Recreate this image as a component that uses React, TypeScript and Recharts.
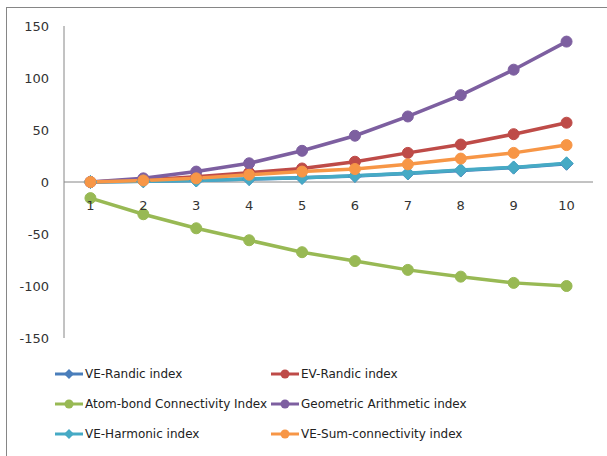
import React from 'react'
import { LineChart, Line, XAxis, YAxis, ReferenceLine } from 'recharts'

const categories = [1, 2, 3, 4, 5, 6, 7, 8, 9, 10]
const veRandic = [0, 0.7, 1.5, 2.8, 4, 5.8, 8.2, 11, 13.8, 17.5]
const evRandic = [0, 2, 5, 9, 13, 19.5, 28, 36, 46, 57]
const abcIndex = [-15.5, -31, -44.5, -56, -67.5, -76, -84.5, -91, -97, -100]
const gaIndex = [0, 3.5, 10, 18, 30, 44.5, 63, 83.5, 108, 135]
const veHarmonic = [0, 0.7, 1.5, 3, 4, 6, 8.5, 11.5, 14, 18]
const veSum = [0, 1.5, 3.5, 7, 10, 12.5, 17, 22.5, 28, 35.5]
const yTicks = [-150, -100, -50, 0, 50, 100, 150]

const series = [
  { key: 'veRandic', name: 'VE-Randic index', color: '#4A7EBB', values: veRandic, shape: 'diamond' },
  { key: 'evRandic', name: 'EV-Randic index', color: '#BE4B48', values: evRandic, shape: 'circle' },
  { key: 'abc', name: 'Atom-bond Connectivity Index', color: '#98B954', values: abcIndex, shape: 'circle' },
  { key: 'ga', name: 'Geometric Arithmetic index', color: '#7D5FA0', values: gaIndex, shape: 'circle' },
  { key: 'veHarmonic', name: 'VE-Harmonic index', color: '#46AAC5', values: veHarmonic, shape: 'diamond' },
  { key: 'veSum', name: 'VE-Sum-connectivity index', color: '#F79646', values: veSum, shape: 'circle' },
]

const data = categories.map((c, i) => {
  const row: any = { x: c }
  series.forEach((s) => (row[s.key] = s.values[i]))
  return row
})

const W = 607
const H = 456
const TOP = 26
const PLOT_BOTTOM = 338
const ZERO_Y = TOP + (PLOT_BOTTOM - TOP) * 0.5
const FONT = '"DejaVu Sans", Verdana, sans-serif'

function makeDot(color: string, shape: string) {
  return (p: any) => {
    const { cx, cy, index } = p
    if (cx == null || cy == null) return <g key={index} />
    if (shape === 'diamond') {
      const r = 6.5
      return (
        <path
          key={index}
          d={`M${cx},${cy - r}L${cx + r},${cy}L${cx},${cy + r}L${cx - r},${cy}Z`}
          fill={color}
          stroke={color}
        />
      )
    }
    return <circle key={index} cx={cx} cy={cy} r={5.5} fill={color} stroke={color} strokeWidth={1} />
  }
}

function XTick(p: any) {
  return (
    <text x={p.x} y={ZERO_Y + 28} textAnchor="middle" fontSize={13} fontFamily={FONT} fill="#333">
      {p.payload.value}
    </text>
  )
}

function LegendIcon({ color, shape }: { color: string; shape: string }) {
  return (
    <svg width={30} height={12} style={{ display: 'block' }}>
      <line x1={1} y1={6} x2={29} y2={6} stroke={color} strokeWidth={3} />
      {shape === 'diamond' ? (
        <path d="M15,1L20,6L15,11L10,6Z" fill={color} />
      ) : (
        <circle cx={15} cy={6} r={4.5} fill={color} />
      )}
    </svg>
  )
}

export default function App() {
  return (
    <div style={{ position: 'absolute', left: 0, top: 0, width: W, height: H, background: '#fff' }}>
      <div
        style={{
          position: 'absolute',
          left: 6,
          top: 7,
          width: W - 6,
          height: H - 7,
          borderLeft: '1px solid #868686',
          borderTop: '1px solid #868686',
        }}
      />
      <LineChart
        width={W}
        height={H}
        data={data}
        margin={{ top: TOP, right: 14, bottom: H - PLOT_BOTTOM - 30, left: 0 }}
        style={{ position: 'absolute', left: 0, top: 0 }}
      >
        <XAxis
          dataKey="x"
          type="number"
          domain={[0.5, 10.5]}
          ticks={categories}
          axisLine={false}
          tickLine={false}
          tick={<XTick />}
          height={30}
        />
        <YAxis
          width={64}
          domain={[-150, 150]}
          ticks={yTicks}
          axisLine={{ stroke: '#868686' }}
          tickLine={false}
          tickMargin={9}
          tick={{ fontSize: 13, fontFamily: FONT, fill: '#333' }}
        />
        <ReferenceLine y={0} stroke="#868686" />
        {series.map((s) => (
          <Line
            key={s.key}
            dataKey={s.key}
            name={s.name}
            stroke={s.color}
            strokeWidth={3.5}
            dot={makeDot(s.color, s.shape)}
            activeDot={false}
            isAnimationActive={false}
          />
        ))}
      </LineChart>
      {series.map((s, i) => {
        const col = i % 2
        const row = Math.floor(i / 2)
        return (
          <div
            key={s.key}
            style={{
              position: 'absolute',
              left: col === 0 ? 54 : 270,
              top: 367 + row * 30,
              display: 'flex',
              alignItems: 'center',
              fontFamily: FONT,
              fontSize: 12,
              color: '#222',
              whiteSpace: 'nowrap',
              lineHeight: '14px',
            }}
          >
            <LegendIcon color={s.color} shape={s.shape} />
            <span style={{ marginLeft: 1 }}>{s.name}</span>
          </div>
        )
      })}
    </div>
  )
}
